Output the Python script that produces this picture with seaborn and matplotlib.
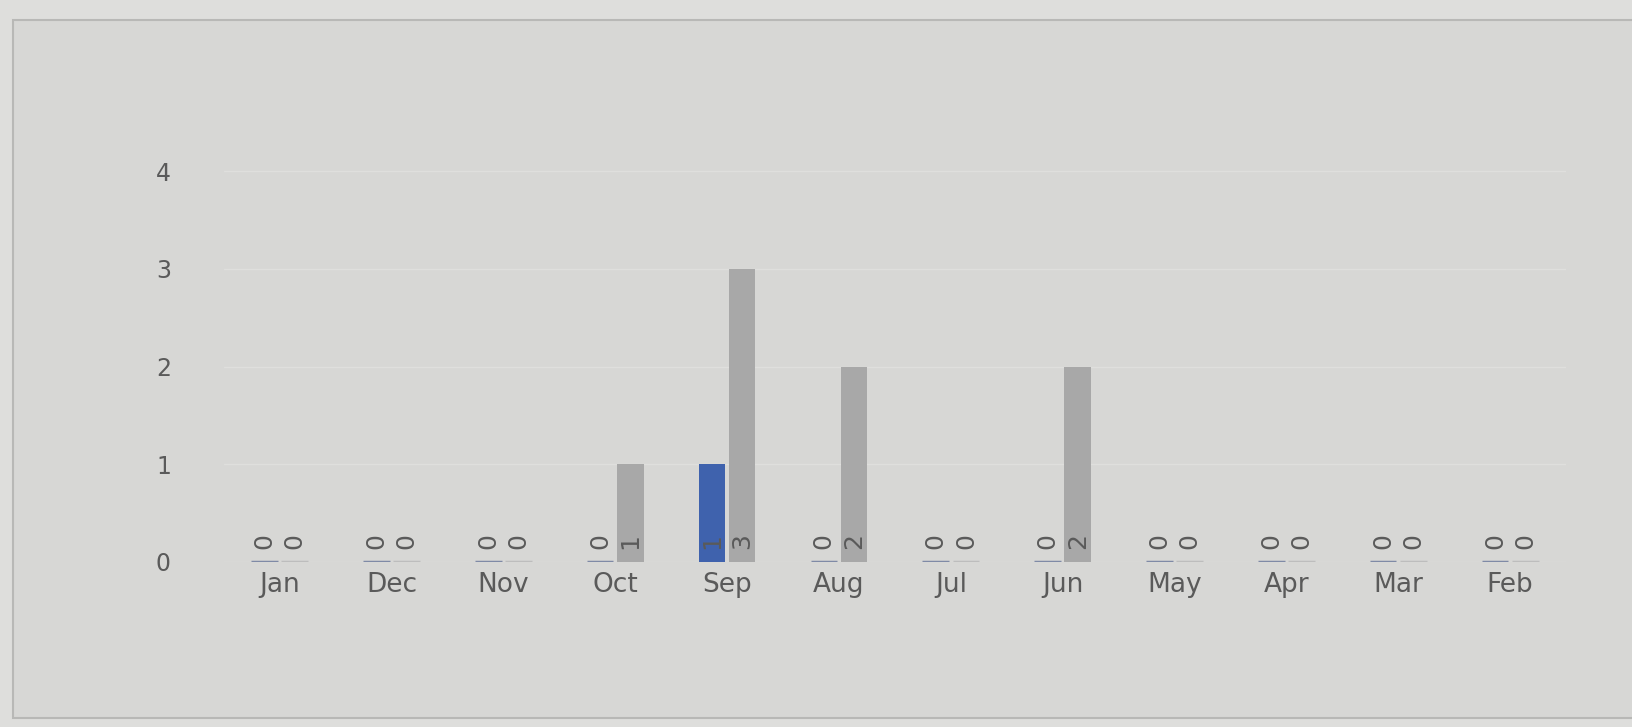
import pandas as pd
import numpy as np
import matplotlib
matplotlib.use('Agg')
import matplotlib.pyplot as plt
from matplotlib.patches import Rectangle
import seaborn as sns

# data
months = ['Jan', 'Dec', 'Nov', 'Oct', 'Sep', 'Aug', 'Jul', 'Jun', 'May', 'Apr', 'Mar', 'Feb']
blue_vals = [0, 0, 0, 0, 1, 0, 0, 0, 0, 0, 0, 0]
gray_vals = [0, 0, 0, 1, 3, 2, 0, 2, 0, 0, 0, 0]
series_names = ['current', 'previous']
y_ticks = [0, 1, 2, 3, 4]

bg = '#d7d7d5'
blue = '#3f62ad'
gray = '#a8a8a8'
stub_colors = {'current': '#7f8aa6', 'previous': '#bdbdbd'}
text_col = '#5a5a5a'

df = pd.DataFrame({
    'month': months * 2,
    'series': [series_names[0]] * len(months) + [series_names[1]] * len(months),
    'count': blue_vals + gray_vals,
})

sns.set_theme(style='white')
plt.rcParams['font.family'] = ['DejaVu Sans']

fig = plt.figure(figsize=(16.33, 7.27), dpi=100, facecolor='#dededc')
# card border from the photo
fig.patches.append(Rectangle((0.008, 0.012), 1.2, 0.961, transform=fig.transFigure,
                             facecolor=bg, edgecolor='#b8b8b6', linewidth=1.5, zorder=-10))

ax = fig.add_axes([0.137, 0.227, 0.822, 0.618])
ax.set_facecolor('none')

sns.barplot(data=df, x='month', y='count', hue='series', order=months,
            palette=[blue, gray], width=0.54, gap=0.12, legend=False, ax=ax,
            saturation=1, linewidth=0, zorder=3)

ax.set_ylim(0, 4.6)
ax.set_yticks(y_ticks)
ax.grid(axis='y', color='#dfdfdd', linewidth=1, zorder=0)
ax.grid(axis='x', visible=False)
for s in ax.spines.values():
    s.set_visible(False)

ax.tick_params(axis='y', length=0, pad=38, labelsize=17, labelcolor=text_col)
ax.tick_params(axis='x', length=0, pad=7, labelsize=19, labelcolor=text_col)
ax.set_xlabel('')
ax.set_ylabel('')

# value labels at the bar base, rotated, and stubs for empty bars
for cont, name in zip(ax.containers, series_names):
    for rect in cont:
        h = rect.get_height()
        xc = rect.get_x() + rect.get_width() / 2
        if h == 0:
            rect.set_edgecolor(stub_colors[name])
            rect.set_linewidth(2.5)
        ax.annotate(f'{int(h)}', (xc, 0), xytext=(0, 9), textcoords='offset points',
                    rotation=90, ha='center', va='bottom', fontsize=18,
                    color=text_col, zorder=5)

fig.savefig('out.png', dpi=100, facecolor=fig.get_facecolor())
